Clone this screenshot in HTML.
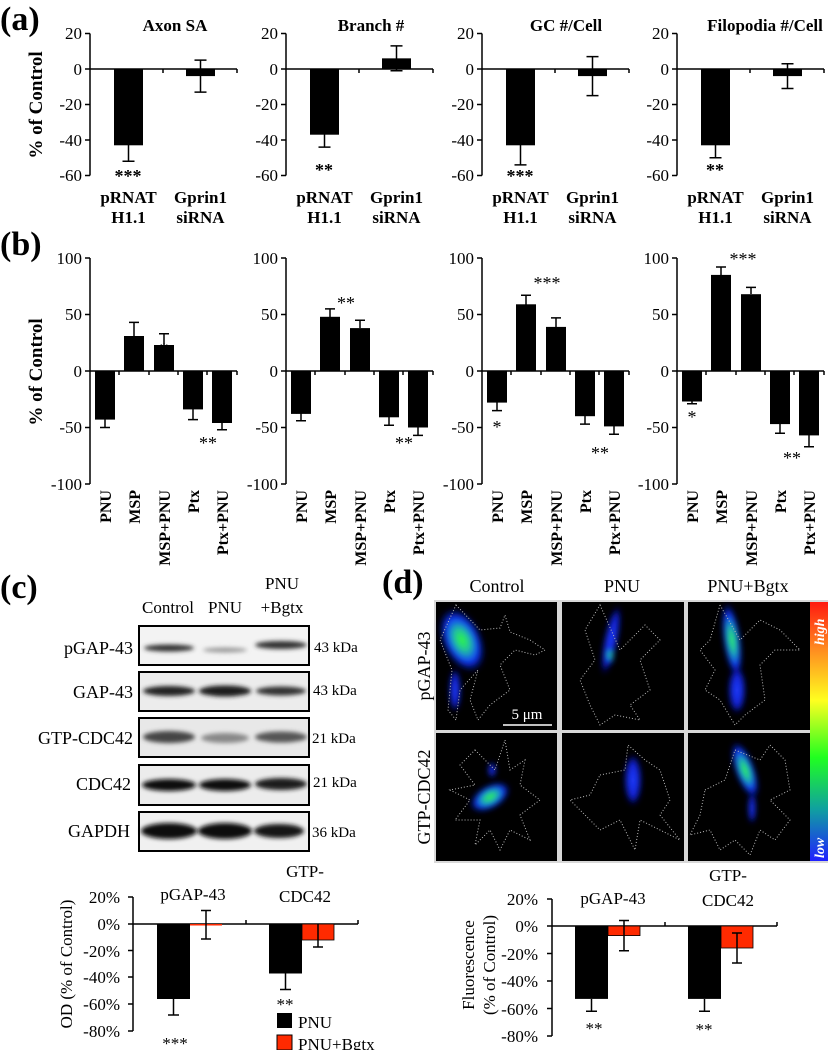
<!DOCTYPE html>
<html><head><meta charset="utf-8"><style>
html,body{margin:0;padding:0;background:#fff;}
svg{display:block;font-family:"Liberation Serif",serif;}
.b{font-weight:bold}
</style></head><body>
<svg width="835" height="1050" viewBox="0 0 835 1050" xmlns="http://www.w3.org/2000/svg" font-family="Liberation Serif, serif">
<defs>
<filter id="bl" x="-20%" y="-50%" width="140%" height="200%"><feGaussianBlur stdDeviation="2.2"/></filter>
<filter id="bl2" x="-50%" y="-50%" width="200%" height="200%"><feGaussianBlur stdDeviation="3"/></filter>
<linearGradient id="cb" x1="0" y1="0" x2="0" y2="1">
<stop offset="0" stop-color="#ff1a10"/><stop offset="0.18" stop-color="#ff8a20"/><stop offset="0.38" stop-color="#ffff20"/><stop offset="0.6" stop-color="#20ff20"/><stop offset="0.8" stop-color="#10a0a0"/><stop offset="1" stop-color="#2020ff"/>
</linearGradient>
<radialGradient id="blob"><stop offset="0" stop-color="#30ff30"/><stop offset="0.35" stop-color="#20c0a0"/><stop offset="0.7" stop-color="#1030ff"/><stop offset="1" stop-color="#0010a0" stop-opacity="0"/></radialGradient>
<radialGradient id="blobB"><stop offset="0" stop-color="#2040ff"/><stop offset="0.7" stop-color="#1020d0"/><stop offset="1" stop-color="#000080" stop-opacity="0"/></radialGradient>
</defs>

<!-- ===== (a) ===== -->
<text x="0" y="30" font-size="34" class="b">(a)</text>
<text transform="translate(42,105) rotate(-90)" text-anchor="middle" font-size="19" class="b">% of Control</text>
<g font-size="17" text-anchor="end">
<g><text x="82" y="39">20</text><text x="82" y="75">0</text><text x="82" y="110">-20</text><text x="82" y="146">-40</text><text x="82" y="181">-60</text></g>
<g transform="translate(196,0)"><text x="82" y="39">20</text><text x="82" y="75">0</text><text x="82" y="110">-20</text><text x="82" y="146">-40</text><text x="82" y="181">-60</text></g>
<g transform="translate(392,0)"><text x="82" y="39">20</text><text x="82" y="75">0</text><text x="82" y="110">-20</text><text x="82" y="146">-40</text><text x="82" y="181">-60</text></g>
<g transform="translate(587,0)"><text x="82" y="39">20</text><text x="82" y="75">0</text><text x="82" y="110">-20</text><text x="82" y="146">-40</text><text x="82" y="181">-60</text></g>
</g>
<g>
<g stroke="#000" stroke-width="1.5" fill="none"><path d="M90 33.5V175.5M85 33.5H90M85 69H90M85 104.5H90M85 140H90M85 175.5H90M90 69H237M163 69V73M237 69V73"/></g>
<rect x="114" y="69" width="29" height="76.3"/><rect x="186" y="69" width="29" height="7.1"/>
<path d="M128.5 145V161.3M122.5 161.3H134.5M200.5 60.1V92.1M194.5 60.1H206.5M194.5 92.1H206.5" stroke="#000" stroke-width="1.5"/>
</g>
<g transform="translate(196,0)">
<g stroke="#000" stroke-width="1.5" fill="none"><path d="M90 33.5V175.5M85 33.5H90M85 69H90M85 104.5H90M85 140H90M85 175.5H90M90 69H237M163 69V73M237 69V73"/></g>
<rect x="114" y="69" width="29" height="65.7"/><rect x="186" y="58.35" width="29" height="10.65"/>
<path d="M128.5 134V147.1M122.5 147.1H134.5M200.5 45.9V70.8M194.5 45.9H206.5M194.5 70.8H206.5" stroke="#000" stroke-width="1.5"/>
</g>
<g transform="translate(392,0)">
<g stroke="#000" stroke-width="1.5" fill="none"><path d="M90 33.5V175.5M85 33.5H90M85 69H90M85 104.5H90M85 140H90M85 175.5H90M90 69H237M163 69V73M237 69V73"/></g>
<rect x="114" y="69" width="29" height="76.3"/><rect x="186" y="69" width="29" height="7.1"/>
<path d="M128.5 145V164.9M122.5 164.9H134.5M200.5 56.6V95.6M194.5 56.6H206.5M194.5 95.6H206.5" stroke="#000" stroke-width="1.5"/>
</g>
<g transform="translate(587,0)">
<g stroke="#000" stroke-width="1.5" fill="none"><path d="M90 33.5V175.5M85 33.5H90M85 69H90M85 104.5H90M85 140H90M85 175.5H90M90 69H237M163 69V73M237 69V73"/></g>
<rect x="114" y="69" width="29" height="76.3"/><rect x="186" y="69" width="29" height="7.1"/>
<path d="M128.5 145V157.8M122.5 157.8H134.5M200.5 63.7V88.5M194.5 63.7H206.5M194.5 88.5H206.5" stroke="#000" stroke-width="1.5"/>
</g>
<g class="b" font-size="17" text-anchor="middle">
<text x="175" y="31">Axon SA</text><text x="371" y="31">Branch #</text><text x="566" y="31">GC #/Cell</text><text x="765" y="31">Filopodia #/Cell</text>
<text x="128" y="182" font-size="18">***</text><text x="324" y="176" font-size="18">**</text><text x="520" y="182" font-size="18">***</text><text x="715" y="176" font-size="18">**</text>
<g><text x="128.5" y="203">pRNAT</text><text x="128.5" y="223">H1.1</text><text x="200.5" y="203">Gprin1</text><text x="200.5" y="223">siRNA</text></g>
<g transform="translate(196,0)"><text x="128.5" y="203">pRNAT</text><text x="128.5" y="223">H1.1</text><text x="200.5" y="203">Gprin1</text><text x="200.5" y="223">siRNA</text></g>
<g transform="translate(392,0)"><text x="128.5" y="203">pRNAT</text><text x="128.5" y="223">H1.1</text><text x="200.5" y="203">Gprin1</text><text x="200.5" y="223">siRNA</text></g>
<g transform="translate(587,0)"><text x="128.5" y="203">pRNAT</text><text x="128.5" y="223">H1.1</text><text x="200.5" y="203">Gprin1</text><text x="200.5" y="223">siRNA</text></g>
</g>

<!-- ===== (b) ===== -->
<text x="0" y="255" font-size="34" class="b">(b)</text>
<text transform="translate(42,372) rotate(-90)" text-anchor="middle" font-size="19" class="b">% of Control</text>
<g font-size="17" text-anchor="end">
<g><text x="82" y="264">100</text><text x="82" y="320">50</text><text x="82" y="377">0</text><text x="82" y="433">-50</text><text x="82" y="490">-100</text></g>
<g transform="translate(196,0)"><text x="82" y="264">100</text><text x="82" y="320">50</text><text x="82" y="377">0</text><text x="82" y="433">-50</text><text x="82" y="490">-100</text></g>
<g transform="translate(392,0)"><text x="82" y="264">100</text><text x="82" y="320">50</text><text x="82" y="377">0</text><text x="82" y="433">-50</text><text x="82" y="490">-100</text></g>
<g transform="translate(587,0)"><text x="82" y="264">100</text><text x="82" y="320">50</text><text x="82" y="377">0</text><text x="82" y="433">-50</text><text x="82" y="490">-100</text></g>
</g>
<g>
<path d="M90 258V484M85 258H90M85 314.5H90M85 371H90M85 427.5H90M85 484H90M90 371H237M119 371V375M149 371V375M178 371V375M207 371V375M237 371V375" stroke="#000" stroke-width="1.5" fill="none"/>
<rect x="95" y="371" width="20" height="48.6"/><rect x="124" y="336" width="20" height="35"/><rect x="154" y="345" width="20" height="26"/><rect x="183" y="371" width="20" height="38.4"/><rect x="212" y="371" width="20" height="52"/>
<path d="M105 419V427.5M100 427.5H110M134 336V322.4M129 322.4H139M164 345V333.7M159 333.7H169M193 409V419.6M188 419.6H198M222 423V429.8M217 429.8H227" stroke="#000" stroke-width="1.5"/>
</g>
<g transform="translate(196,0)">
<path d="M90 258V484M85 258H90M85 314.5H90M85 371H90M85 427.5H90M85 484H90M90 371H237M119 371V375M149 371V375M178 371V375M207 371V375M237 371V375" stroke="#000" stroke-width="1.5" fill="none"/>
<rect x="95" y="371" width="20" height="42.9"/><rect x="124" y="316.8" width="20" height="54.2"/><rect x="154" y="328.1" width="20" height="42.9"/><rect x="183" y="371" width="20" height="46.3"/><rect x="212" y="371" width="20" height="56.5"/>
<path d="M105 413V420.7M100 420.7H110M134 317V308.9M129 308.9H139M164 328V320.2M159 320.2H169M193 417V425.2M188 425.2H198M222 427V435.4M217 435.4H227" stroke="#000" stroke-width="1.5"/>
</g>
<g transform="translate(392,0)">
<path d="M90 258V484M85 258H90M85 314.5H90M85 371H90M85 427.5H90M85 484H90M90 371H237M119 371V375M149 371V375M178 371V375M207 371V375M237 371V375" stroke="#000" stroke-width="1.5" fill="none"/>
<rect x="95" y="371" width="20" height="31.6"/><rect x="124" y="304.3" width="20" height="66.7"/><rect x="154" y="326.9" width="20" height="44.1"/><rect x="183" y="371" width="20" height="45.2"/><rect x="212" y="371" width="20" height="55.4"/>
<path d="M105 402V410.6M100 410.6H110M134 305V295.3M129 295.3H139M164 327V317.9M159 317.9H169M193 416V424.1M188 424.1H198M222 426V434.3M217 434.3H227" stroke="#000" stroke-width="1.5"/>
</g>
<g transform="translate(587,0)">
<path d="M90 258V484M85 258H90M85 314.5H90M85 371H90M85 427.5H90M85 484H90M90 371H237M119 371V375M149 371V375M178 371V375M207 371V375M237 371V375" stroke="#000" stroke-width="1.5" fill="none"/>
<rect x="95" y="371" width="20" height="30.5"/><rect x="124" y="274.9" width="20" height="96.1"/><rect x="154" y="294.2" width="20" height="76.8"/><rect x="183" y="371" width="20" height="53.1"/><rect x="212" y="371" width="20" height="64.4"/>
<path d="M105 401V403.8M100 403.8H110M134 275V267M129 267H139M164 294V287.4M159 287.4H169M193 424V433.2M188 433.2H198M222 435V446.7M217 446.7H227" stroke="#000" stroke-width="1.5"/>
</g>
<g font-size="18" text-anchor="middle">
<text x="105" y="415">**</text><text x="164" y="355">*</text><text x="208" y="449">**</text>
<text x="301" y="419">**</text><text x="346" y="309">**</text><text x="404" y="449">**</text>
<text x="497" y="433">*</text><text x="547" y="289">***</text><text x="600" y="459">**</text>
<text x="692" y="423">*</text><text x="743" y="265">***</text><text x="792" y="464">**</text>
</g>
<g class="b" font-size="16" text-anchor="end">
<g><text transform="translate(111,490) rotate(-90)">PNU</text><text transform="translate(140,490) rotate(-90)">MSP</text><text transform="translate(170,490) rotate(-90)">MSP+PNU</text><text transform="translate(199,490) rotate(-90)">Ptx</text><text transform="translate(228,490) rotate(-90)">Ptx+PNU</text></g>
<g transform="translate(196,0)"><text transform="translate(111,490) rotate(-90)">PNU</text><text transform="translate(140,490) rotate(-90)">MSP</text><text transform="translate(170,490) rotate(-90)">MSP+PNU</text><text transform="translate(199,490) rotate(-90)">Ptx</text><text transform="translate(228,490) rotate(-90)">Ptx+PNU</text></g>
<g transform="translate(392,0)"><text transform="translate(111,490) rotate(-90)">PNU</text><text transform="translate(140,490) rotate(-90)">MSP</text><text transform="translate(170,490) rotate(-90)">MSP+PNU</text><text transform="translate(199,490) rotate(-90)">Ptx</text><text transform="translate(228,490) rotate(-90)">Ptx+PNU</text></g>
<g transform="translate(587,0)"><text transform="translate(111,490) rotate(-90)">PNU</text><text transform="translate(140,490) rotate(-90)">MSP</text><text transform="translate(170,490) rotate(-90)">MSP+PNU</text><text transform="translate(199,490) rotate(-90)">Ptx</text><text transform="translate(228,490) rotate(-90)">Ptx+PNU</text></g>
</g>

<!-- ===== (c) ===== -->
<text x="0" y="598" font-size="34" class="b">(c)</text>
<g font-size="17" text-anchor="middle">
<text x="282" y="589">PNU</text>
<text x="168" y="613">Control</text><text x="225" y="613">PNU</text><text x="282" y="613">+Bgtx</text>
</g>
<g>
<rect x="139" y="626" width="170" height="39" fill="#f3f3f3" stroke="#000" stroke-width="2"/>
<rect x="139" y="672" width="170" height="39" fill="#ececec" stroke="#000" stroke-width="2"/>
<rect x="139" y="718" width="170" height="39" fill="#e8e8e8" stroke="#000" stroke-width="2"/>
<rect x="139" y="765" width="170" height="40" fill="#ececec" stroke="#000" stroke-width="2"/>
<rect x="139" y="812" width="170" height="39" fill="#f0f0f0" stroke="#000" stroke-width="2"/>
<g filter="url(#bl)">
<ellipse cx="169" cy="648" rx="25" ry="3.5" fill="#333"/><ellipse cx="225" cy="650" rx="22" ry="2.5" fill="#999"/><ellipse cx="281" cy="645" rx="26" ry="4" fill="#333"/>
<ellipse cx="169" cy="691" rx="26" ry="5" fill="#222"/><ellipse cx="225" cy="691" rx="26" ry="5.5" fill="#1a1a1a"/><ellipse cx="281" cy="691" rx="25" ry="4.5" fill="#333"/>
<ellipse cx="169" cy="737" rx="26" ry="6" fill="#444"/><ellipse cx="225" cy="738" rx="24" ry="5" fill="#888"/><ellipse cx="281" cy="737" rx="26" ry="5.5" fill="#555"/>
<ellipse cx="169" cy="785" rx="27" ry="6" fill="#111"/><ellipse cx="225" cy="785" rx="26" ry="6" fill="#111"/><ellipse cx="281" cy="784" rx="26" ry="6" fill="#1a1a1a"/>
<ellipse cx="169" cy="831" rx="28" ry="8" fill="#0a0a0a"/><ellipse cx="225" cy="831" rx="27" ry="8" fill="#0a0a0a"/><ellipse cx="279" cy="831" rx="25" ry="7" fill="#151515"/>
</g>
</g>
<g font-size="18" text-anchor="end">
<text x="133" y="654">pGAP-43</text><text x="133" y="698">GAP-43</text><text x="133" y="744">GTP-CDC42</text><text x="131" y="790">CDC42</text><text x="130" y="837">GAPDH</text>
</g>
<g font-size="15">
<text x="314" y="652">43 kDa</text><text x="313" y="695">43 kDa</text><text x="312" y="743">21 kDa</text><text x="313" y="787">21 kDa</text><text x="312" y="837">36 kDa</text>
</g>
<g stroke="#000" stroke-width="1.5" fill="none"><path d="M133 897V1031M128 897H133M128 924H133M128 950.5H133M128 977H133M128 1004H133M128 1031H133M133 924H358M246 924V920M358 924V920"/></g>
<rect x="157" y="924" width="33" height="75"/><rect x="190" y="924" width="32" height="1.5" fill="#ff2a00"/>
<rect x="269" y="924" width="33" height="49.5"/><rect x="302" y="924" width="32" height="16" fill="#ff2a00" stroke="#000" stroke-width="0.8"/>
<path d="M173.5 999V1015M168 1015H179M206 910.5V939M201 910.5H211M201 939H211M285.5 973V989.5M280 989.5H291M318 924V947M313 947H323" stroke="#000" stroke-width="1.5"/>
<g font-size="17" text-anchor="end"><text x="120" y="903">20%</text><text x="120" y="930">0%</text><text x="120" y="957">-20%</text><text x="120" y="983">-40%</text><text x="120" y="1010">-60%</text><text x="120" y="1037">-80%</text></g>
<text transform="translate(72,964) rotate(-90)" text-anchor="middle" font-size="17">OD (% of Control)</text>
<g font-size="17" text-anchor="middle"><text x="193" y="900">pGAP-43</text><text x="305" y="877">GTP-</text><text x="305" y="902">CDC42</text></g>
<g font-size="17" text-anchor="middle"><text x="175" y="1049">***</text><text x="285" y="1010">**</text></g>
<rect x="277" y="1013" width="15" height="15"/><rect x="277" y="1035" width="15" height="15" fill="#ff2a00" stroke="#000" stroke-width="1"/>
<g font-size="17"><text x="298" y="1028">PNU</text><text x="298" y="1050">PNU+Bgtx</text></g>

<!-- ===== (d) ===== -->
<text x="382" y="593" font-size="34" class="b">(d)</text>
<g font-size="18" text-anchor="middle"><text x="497" y="592">Control</text><text x="622" y="592">PNU</text><text x="748" y="592">PNU+Bgtx</text></g>
<text transform="translate(430,666) rotate(-90)" text-anchor="middle" font-size="18">pGAP-43</text>
<text transform="translate(430,797) rotate(-90)" text-anchor="middle" font-size="18">GTP-CDC42</text>
<rect x="434" y="600" width="394" height="263" fill="#d8d8d8"/>
<g fill="#000">
<rect x="436" y="602" width="121" height="128"/><rect x="562" y="602" width="122" height="128"/><rect x="688" y="602" width="122" height="128"/>
<rect x="436" y="733" width="121" height="128"/><rect x="562" y="733" width="122" height="128"/><rect x="688" y="733" width="122" height="128"/>
</g>
<rect x="810" y="602" width="18" height="259" fill="url(#cb)"/>
<text transform="translate(824,645) rotate(-90)" font-size="14" font-style="italic" class="b" fill="#fff">high</text>
<text transform="translate(824,858) rotate(-90)" font-size="14" font-style="italic" class="b" fill="#fff">low</text>
<g filter="url(#bl2)">
<ellipse cx="462" cy="640" rx="20" ry="34" fill="url(#blob)" transform="rotate(-25 462 640)"/>
<ellipse cx="455" cy="690" rx="6" ry="22" fill="url(#blobB)"/>
<ellipse cx="611" cy="640" rx="7" ry="36" fill="url(#blobB)" transform="rotate(12 611 640)"/>
<ellipse cx="610" cy="655" rx="4" ry="10" fill="url(#blob)"/>
<ellipse cx="732" cy="640" rx="9" ry="38" fill="url(#blob)" transform="rotate(-8 732 640)"/>
<ellipse cx="737" cy="690" rx="9" ry="24" fill="url(#blobB)"/>
<ellipse cx="490" cy="797" rx="22" ry="12" fill="url(#blob)" transform="rotate(-30 490 797)"/>
<ellipse cx="492" cy="770" rx="4" ry="8" fill="url(#blobB)"/>
<ellipse cx="633" cy="780" rx="9" ry="26" fill="url(#blobB)"/>
<ellipse cx="745" cy="770" rx="10" ry="30" fill="url(#blob)" transform="rotate(-20 745 770)"/>
<ellipse cx="752" cy="808" rx="4" ry="16" fill="url(#blobB)"/>
</g>
<g fill="none" stroke="#bbb" stroke-width="1" stroke-dasharray="1 2">
<path d="M456 605L480 630L500 628L505 615L510 632L530 640L545 650L535 655L515 650L500 665L510 690L490 705L478 720L470 700L478 670L460 690L456 720L448 710L452 670L440 640Z"/>
<path d="M600 605L620 650L645 625L660 640L640 660L650 690L630 705L640 720L615 715L600 725L590 705L580 680L595 660L585 630Z"/>
<path d="M720 605L740 640L760 620L780 630L800 650L775 650L760 665L765 700L745 715L735 725L720 700L705 690L715 670L700 650L710 640Z"/>
<path d="M475 750L495 770L505 740L510 770L525 760L520 785L540 800L520 815L530 840L510 830L500 850L490 830L475 845L480 820L455 820L470 800L450 790L475 785L460 765Z"/>
<path d="M600 775L625 770L628 745L645 760L660 770L670 800L660 815L680 840L660 830L640 820L635 850L620 820L600 830L585 815L570 800L590 795Z"/>
<path d="M705 790L725 780L735 750L760 760L770 745L785 760L790 790L770 800L790 820L775 840L760 830L750 855L735 840L720 850L710 830L690 835L700 815Z"/>
</g>
<line x1="503" y1="725" x2="552" y2="725" stroke="#fff" stroke-width="1.5"/>
<text x="527" y="719" text-anchor="middle" font-size="15" fill="#fff">5 μm</text>
<g stroke="#000" stroke-width="1.5" fill="none"><path d="M552 899V1036M547 899H552M547 926H552M547 953.5H552M547 981H552M547 1008.5H552M547 1036H552M552 926H777M665 926V922M777 926V922"/></g>
<rect x="575" y="926" width="33" height="72.9"/><rect x="608" y="926" width="32" height="9.6" fill="#ff2a00" stroke="#000" stroke-width="0.8"/>
<rect x="688" y="926" width="33" height="72.9"/><rect x="721" y="926" width="32" height="22" fill="#ff2a00" stroke="#000" stroke-width="0.8"/>
<path d="M591.5 999V1011.2M586 1011.2H597M624 920.5V950.7M619 920.5H629M619 950.7H629M704.5 999V1011.2M699 1011.2H710M737 933V963M732 933H742M732 963H742" stroke="#000" stroke-width="1.5"/>
<g font-size="17" text-anchor="end"><text x="538" y="905">20%</text><text x="538" y="932">0%</text><text x="538" y="960">-20%</text><text x="538" y="987">-40%</text><text x="538" y="1015">-60%</text><text x="538" y="1042">-80%</text></g>
<text transform="translate(474,965) rotate(-90)" text-anchor="middle" font-size="17">Fluorescence</text>
<text transform="translate(495,965) rotate(-90)" text-anchor="middle" font-size="17">(% of Control)</text>
<g font-size="17" text-anchor="middle"><text x="613" y="904">pGAP-43</text><text x="728" y="881">GTP-</text><text x="728" y="906">CDC42</text></g>
<g font-size="17" text-anchor="middle"><text x="594" y="1034">**</text><text x="704" y="1035">**</text></g>
</svg>
</body></html>
